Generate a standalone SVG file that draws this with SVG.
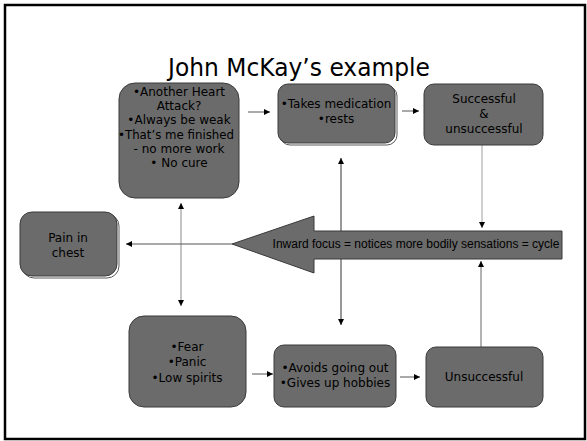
<svg xmlns="http://www.w3.org/2000/svg" width="587" height="441" viewBox="0 0 587 441">
<style>
.box{fill:#6b6b6b;stroke:#3a3a3a;stroke-width:1}
.sh{fill:#fff;stroke:#5a5a5a;stroke-width:1}
.t{font-family:"DejaVu Sans",Verdana,sans-serif;font-size:12px;fill:#000;text-anchor:middle}
.c{fill:none;stroke-width:1}
</style>
<defs>
<marker id="ah" markerUnits="userSpaceOnUse" markerWidth="7" markerHeight="6" refX="6" refY="3" orient="auto-start-reverse">
<path d="M0,0 L6,3 L0,6 z" fill="#000"/>
</marker>
</defs>
<rect x="5" y="5" width="580" height="434" fill="#fff" stroke="#000" stroke-width="2.5"/>
<text x="299" y="76" font-family="DejaVu Sans,Verdana,sans-serif" font-size="25" text-anchor="middle" textLength="262" lengthAdjust="spacingAndGlyphs">John McKay’s example</text>

<g id="connectors">
<line class="c" x1="341" y1="158" x2="341" y2="325" stroke="#333" marker-start="url(#ah)" marker-end="url(#ah)"/>
<line class="c" x1="181" y1="203" x2="181" y2="306" stroke="#8a8a8a" stroke-width="1.5" marker-start="url(#ah)" marker-end="url(#ah)"/>
<line class="c" x1="248" y1="112" x2="270" y2="112" stroke="#555" marker-end="url(#ah)"/>
<line class="c" x1="402" y1="111" x2="419" y2="111" stroke="#555" marker-end="url(#ah)"/>
<line class="c" x1="482" y1="145" x2="482" y2="228" stroke="#a0a0a0" stroke-width="1.5" marker-end="url(#ah)"/>
<line class="c" x1="481" y1="347" x2="481" y2="261" stroke="#666" marker-end="url(#ah)"/>
<line class="c" x1="232" y1="244" x2="126" y2="244" stroke="#555" marker-end="url(#ah)"/>
<line class="c" x1="252" y1="374" x2="273" y2="374" stroke="#555" marker-end="url(#ah)"/>
<line class="c" x1="400" y1="377" x2="420" y2="377" stroke="#555" marker-end="url(#ah)"/>
</g>

<g id="cycle">
<polygon class="box" points="232,244 314,216 314,231 562,231 562,259 314,259 314,273"/>
<text x="416" y="248" font-family="Liberation Sans,Arial,sans-serif" font-size="12" text-anchor="middle">Inward focus = notices more bodily sensations = cycle</text>
</g>

<g id="worries">
<rect class="box" x="119" y="83" width="120" height="115" rx="16"/>
<text class="t"><tspan x="179" y="96">•Another Heart</tspan><tspan x="179" y="110">Attack?</tspan><tspan x="179" y="124">•Always be weak</tspan><tspan x="176" y="139" textLength="116" lengthAdjust="spacingAndGlyphs">•That’s me finished</tspan><tspan x="179" y="153">- no more work</tspan><tspan x="179" y="167">• No cure</tspan></text>
</g>

<g id="medication">
<rect class="sh" x="280" y="86" width="117" height="59" rx="10"/>
<rect class="box" x="278" y="84" width="117" height="59" rx="10"/>
<text class="t"><tspan x="336" y="108">•Takes medication</tspan><tspan x="336" y="123">•rests</tspan></text>
</g>

<g id="successful">
<rect class="box" x="424" y="84" width="119" height="61" rx="10"/>
<text class="t"><tspan x="484" y="103">Successful</tspan><tspan x="484" y="118">&amp;</tspan><tspan x="484" y="133">unsuccessful</tspan></text>
</g>

<g id="pain">
<rect class="sh" x="22" y="214" width="97" height="64" rx="12"/>
<rect class="box" x="20" y="212" width="97" height="64" rx="12"/>
<text class="t"><tspan x="68" y="242">Pain in</tspan><tspan x="68" y="257">chest</tspan></text>
</g>

<g id="fear">
<rect class="box" x="129" y="316" width="117" height="91" rx="15"/>
<text class="t"><tspan x="187" y="351">•Fear</tspan><tspan x="187" y="366">•Panic</tspan><tspan x="187" y="382">•Low spirits</tspan></text>
</g>

<g id="avoids">
<rect class="box" x="274" y="345" width="122" height="62" rx="10"/>
<text class="t"><tspan x="335" y="372">•Avoids going out</tspan><tspan x="335" y="387">•Gives up hobbies</tspan></text>
</g>

<g id="unsuccessful">
<rect class="box" x="426" y="347" width="117" height="60" rx="10"/>
<text class="t"><tspan x="484" y="381">Unsuccessful</tspan></text>
</g>
</svg>
